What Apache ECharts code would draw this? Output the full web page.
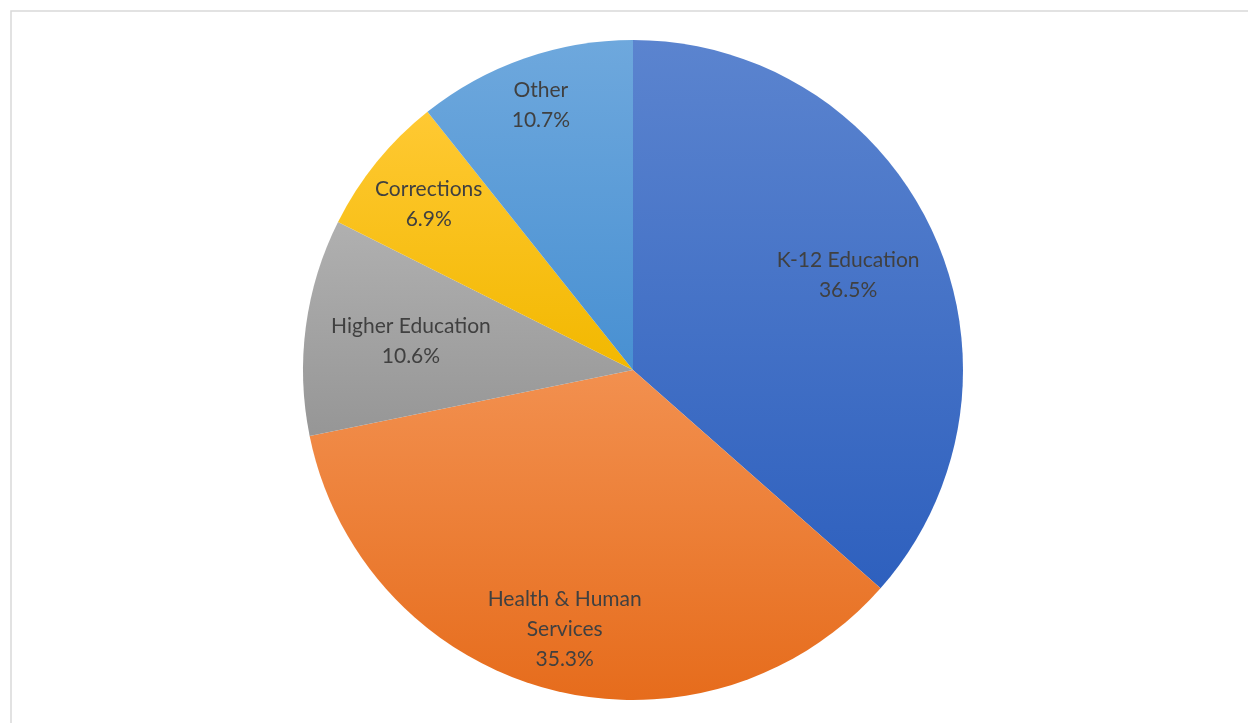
<!DOCTYPE html>
<html>
<head>
<meta charset="utf-8">
<script src="https://cdn.jsdelivr.net/npm/echarts@6/dist/echarts.min.js"></script>
<style>
html,body{margin:0;padding:0;background:#fff;}
#chart{width:1248px;height:723px;}
</style>
</head>
<body>
<div id="chart"></div>
<script>
const categories = ['K-12 Education', 'Health & Human\nServices', 'Higher Education', 'Corrections', 'Other'];
const values = [36.5, 35.3, 10.6, 6.9, 10.7];

const colorTop = ['#5B84CF', '#F2904F', '#B0B0B0', '#FFC933', '#6EA8DD'];
const colorBottom = ['#2E60BE', '#E66C1C', '#969696', '#F2B800', '#4890D2'];
// label placement (angle clockwise from top in degrees, fraction of radius)
const labelPolar = [[65.9, 0.714], [194.8, 0.81], [277.7, 0.679], [309.3, 0.80], [340.9, 0.853]];

const CX = 633, CY = 370, R = 330;

const chart = echarts.init(document.getElementById('chart'));
chart.setOption({
  animation: false,
  graphic: [{
    type: 'rect',
    shape: { x: 11, y: 11, width: 1400, height: 900 },
    style: { fill: 'none', stroke: '#d9d9d9', lineWidth: 1.5 },
    silent: true
  }],
  series: [{
    type: 'pie',
    center: [CX, CY],
    radius: [0, R],
    startAngle: 90,
    clockwise: true,
    avoidLabelOverlap: false,
    itemStyle: { borderWidth: 0 },
    label: {
      show: true,
      position: 'inside',
      formatter: p => p.name + '\n' + p.value.toFixed(1) + '%',
      color: '#404040',
      fontFamily: 'Lato, "Open Sans", sans-serif',
      fontSize: 21,
      lineHeight: 30,
      align: 'center',
      verticalAlign: 'middle'
    },
    labelLine: { show: false },
    labelLayout: function (params) {
      const lp = labelPolar[params.dataIndex];
      const a = lp[0] * Math.PI / 180;
      return {
        x: CX + Math.sin(a) * lp[1] * R,
        y: CY - Math.cos(a) * lp[1] * R + 1,
        align: 'center',
        verticalAlign: 'middle'
      };
    },
    data: categories.map((c, i) => ({
      name: c,
      value: values[i],
      itemStyle: {
        color: new echarts.graphic.LinearGradient(0, 0, 0, 1, [
          { offset: 0, color: colorTop[i] },
          { offset: 1, color: colorBottom[i] }
        ])
      }
    }))
  }]
});
</script>
</body>
</html>
